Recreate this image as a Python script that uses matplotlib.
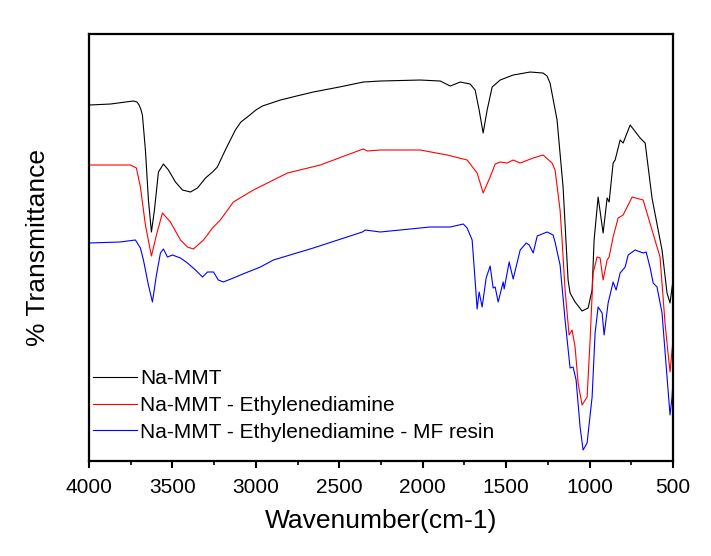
import matplotlib
matplotlib.use("Agg")
import matplotlib.pyplot as plt
from matplotlib.ticker import MultipleLocator

plt.rcParams['font.family'] = ['Liberation Sans', 'DejaVu Sans']

## Data (wavenumber, relative transmittance)
wn_mmt = [4000, 3871, 3781, 3734, 3712, 3700, 3690, 3680, 3662, 3644, 3626, 3608, 3584,
          3554, 3524, 3482, 3440, 3392, 3350, 3302, 3260, 3231, 3183, 3123, 3090, 3051,
          3000, 2961, 2853, 2756, 2656, 2500, 2356, 2255, 2015, 1895, 1835, 1775, 1716,
          1686, 1662, 1638, 1614, 1584, 1536, 1458, 1356, 1279, 1255, 1237, 1195, 1159,
          1129, 1117, 1087, 1045, 1009, 985, 973, 949, 919, 895, 883, 859, 847, 817, 799,
          757, 697, 667, 626, 566, 536, 518, 500]
t_mmt = [356, 357, 359, 360, 359, 356, 352, 346, 311, 261, 229, 251, 289,
         297, 291, 279, 271, 269, 273, 283, 289, 294, 311, 331, 339, 344,
         351, 355, 361, 365, 369, 374, 379, 380, 381, 380, 375, 379, 377,
         371, 351, 328, 351, 374, 381, 386, 389, 388, 385, 378, 341, 274,
         181, 168, 159, 150, 153, 171, 221, 264, 228, 263, 259, 298, 301, 321, 318,
         336, 323, 318, 263, 211, 168, 158, 181]

wn_en = [4000, 3752, 3716, 3692, 3662, 3626, 3596, 3560, 3512, 3452, 3410, 3374, 3314,
         3260, 3213, 3135, 3015, 2811, 2614, 2374, 2356, 2332, 2255, 2015, 1853, 1734,
         1674, 1638, 1596, 1566, 1536, 1494, 1458, 1416, 1338, 1279, 1225, 1207, 1177,
         1165, 1147, 1123, 1105, 1087, 1069, 1045, 1015, 997, 979, 955, 937, 919, 895,
         883, 859, 829, 799, 745, 679, 626, 578, 548, 530, 518, 506, 500]
t_en = [296, 296, 293, 274, 236, 205, 226, 248, 239, 221, 214, 212, 221,
        233, 241, 259, 271, 288, 296, 311, 312, 310, 311, 311, 306, 301,
        288, 268, 284, 297, 299, 298, 301, 298, 303, 306, 298, 291, 251,
        221, 171, 126, 131, 114, 78, 56, 64, 121, 188, 204, 203, 181, 201,
        204, 224, 243, 246, 264, 261, 231, 204, 138, 108, 89, 111, 121]

wn_mf = [4000, 3814, 3722, 3692, 3674, 3644, 3620, 3596, 3572, 3554, 3530, 3500, 3452,
         3410, 3362, 3320, 3290, 3254, 3225, 3195, 3135, 3063, 2973, 2895, 2656, 2362,
         2344, 2255, 1956, 1835, 1757, 1734, 1704, 1692, 1674, 1662, 1644, 1620, 1596,
         1578, 1566, 1548, 1518, 1512, 1482, 1458, 1416, 1380, 1362, 1338, 1314, 1255,
         1219, 1207, 1177, 1147, 1117, 1099, 1081, 1057, 1039, 1015, 985, 967, 949, 925,
         913, 889, 859, 841, 817, 787, 769, 727, 679, 661, 637, 619, 596, 566, 536, 518,
         506, 500]
t_mf = [218, 219, 221, 213, 201, 176, 159, 186, 208, 212, 204, 206, 203,
        198, 191, 184, 189, 189, 181, 179, 183, 188, 194, 201, 213, 229,
        231, 229, 234, 234, 237, 233, 221, 194, 152, 169, 154, 183, 195,
        173, 174, 159, 179, 172, 199, 182, 211, 218, 216, 208, 225, 229,
        226, 219, 196, 141, 93, 94, 81, 34, 11, 18, 64, 128, 154, 148,
        126, 158, 179, 171, 188, 194, 206, 211, 208, 209, 193, 178, 174, 148, 84, 46,
        64, 81]

labels = ['Na-MMT', 'Na-MMT - Ethylenediamine', 'Na-MMT - Ethylenediamine - MF resin']
colors = ['black', 'red', 'blue']

## Plot
fig = plt.figure(figsize=(7.11, 5.56), dpi=100)
ax = fig.add_axes([0.1252, 0.1709, 0.8214, 0.7679])

for x, y, lab, c in zip([wn_mmt, wn_en, wn_mf], [t_mmt, t_en, t_mf], labels, colors):
    ax.plot(x, y, color=c, lw=0.8, label=lab)

ax.set_xlim(4000, 500)
ax.set_ylim(0, 427)
ax.xaxis.set_major_locator(MultipleLocator(500))
ax.xaxis.set_minor_locator(MultipleLocator(250))
ax.tick_params(axis='x', which='major', direction='out', length=5, width=1.5,
               labelsize=15, pad=7, top=False)
ax.tick_params(axis='x', which='minor', direction='out', length=3, width=1.2, top=False)
ax.set_yticks([])
for s in ax.spines.values():
    s.set_linewidth(1.6)

ax.set_xlabel('Wavenumber(cm-1)', fontsize=19, labelpad=9)
ax.set_ylabel('% Transmittance', fontsize=19, labelpad=28)

ax.legend(loc='lower left', bbox_to_anchor=(0.006, 0.045), frameon=False,
          fontsize=15, handlelength=2.15, handletextpad=0.15, labelspacing=0.38,
          borderpad=0, borderaxespad=0)

fig.savefig('out.png', dpi=100)
